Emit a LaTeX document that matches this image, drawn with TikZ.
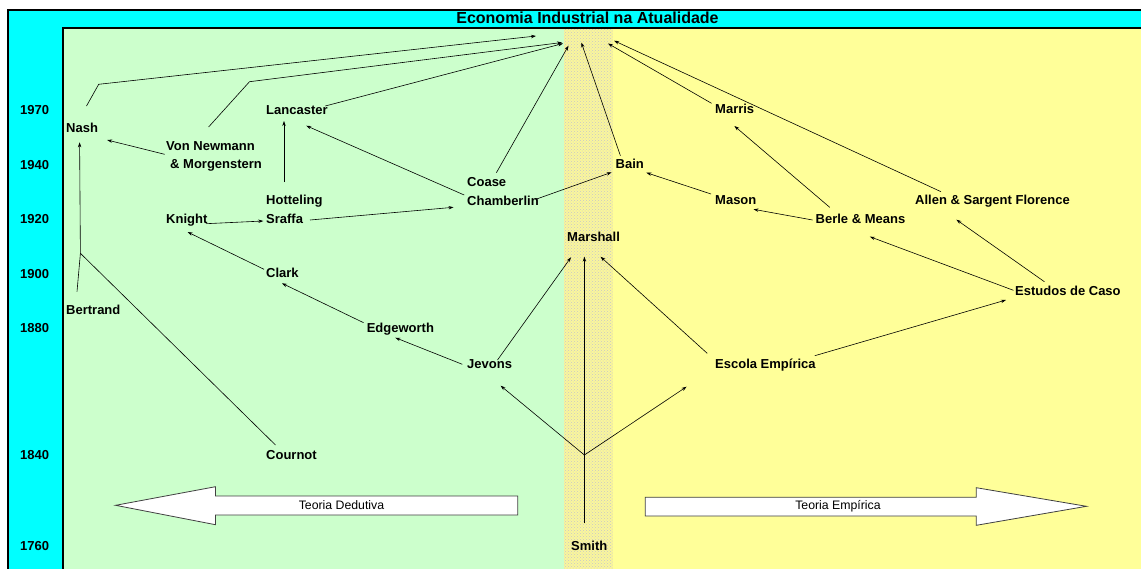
\documentclass[tikz,border=0pt]{standalone}
\usepackage{fontspec}
\setmainfont{Liberation Sans}
\usetikzlibrary{arrows.meta,patterns}
\definecolor{cyanbg}{RGB}{0,255,255}
\definecolor{greenbg}{RGB}{204,255,204}
\definecolor{yellowbg}{RGB}{255,255,153}
\definecolor{bandbg}{RGB}{250,246,156}
\begin{document}
\begin{tikzpicture}[x=1pt,y=-1pt,
 lbl/.style={anchor=base west,inner sep=0pt,font=\bfseries\fontsize{13}{15}\selectfont},
 con/.style={line width=0.6pt},
 arr/.style={con,-{Stealth[length=5pt,width=3.4pt]}},
 blockarrow/.style={fill=white,draw=black!75,line width=0.8pt},
 blocktxt/.style={inner sep=0pt,font=\fontsize{12.3}{14}\selectfont}]
\useasboundingbox (0,0) rectangle (1141,568);
\clip (0,0) rectangle (1141,568);
% frames and backgrounds
\draw[line width=2pt,fill=cyanbg] (8,10) rectangle (1160,590);
\fill[greenbg] (63,28) rectangle (564,590);
\fill[bandbg] (564,28) rectangle (613,590);
\fill[pattern=crosshatch dots,pattern color=black!22] (564,28) rectangle (613,590);
\fill[yellowbg] (613,28) rectangle (1160,590);
\draw[line width=2pt] (63,590) -- (63,28) -- (1160,28);
% title
\node[font=\bfseries\fontsize{16}{18}\selectfont,inner sep=0pt] (title) at (587.5,17.3) {Economia Industrial na Atualidade};
% years
\node[lbl] (y1970) at (20,114.5) {1970};
\node[lbl] (y1940) at (20,169) {1940};
\node[lbl] (y1920) at (20,223.5) {1920};
\node[lbl] (y1900) at (20,278) {1900};
\node[lbl] (y1880) at (20,332.8) {1880};
\node[lbl] (y1840) at (20,459.8) {1840};
\node[lbl] (y1760) at (20,550.8) {1760};
% names
\node[lbl] (nash) at (66,132.5) {Nash};
\node[lbl] (vonn) at (166,150.2) {Von Newmann};
\node[lbl] (morg) at (170,168.8) {\& Morgenstern};
\node[lbl] (lancaster) at (266,114.5) {Lancaster};
\node[lbl] (hotteling) at (266,204.8) {Hotteling};
\node[lbl] (sraffa) at (266,223.5) {Sraffa};
\node[lbl] (knight) at (166,223.5) {Knight};
\node[lbl] (coase) at (467,186.8) {Coase};
\node[lbl] (chamberlin) at (467,205.2) {Chamberlin};
\node[lbl] (marshall) at (567,241.5) {Marshall};
\node[lbl] (bain) at (615.5,168.8) {Bain};
\node[lbl] (marris) at (715,113.8) {Marris};
\node[lbl] (mason) at (715,204.8) {Mason};
\node[lbl] (berle) at (815.5,223.5) {Berle \& Means};
\node[lbl] (allen) at (915,204.8) {Allen \& Sargent Florence};
\node[lbl] (estudos) at (1015,295.5) {Estudos de Caso};
\node[lbl] (escola) at (715,368.8) {Escola Empírica};
\node[lbl] (smith) at (571,550.5) {Smith};
\node[lbl] (clark) at (266,277.8) {Clark};
\node[lbl] (bertrand) at (66,314.8) {Bertrand};
\node[lbl] (edgeworth) at (366.6,332.8) {Edgeworth};
\node[lbl] (jevons) at (467,368.8) {Jevons};
\node[lbl] (cournot) at (266,459.8) {Cournot};
% block arrows
\draw[blockarrow] (517.8,496) -- (215.5,496) -- (215.5,486.7) -- (115.6,505.3) -- (215.5,524.7) -- (215.5,515) -- (517.8,515) -- cycle;
\node[blocktxt] (dedutiva) at (341.5,505.5) {Teoria Dedutiva};
\draw[blockarrow] (645.2,497.3) -- (976.3,497.3) -- (976.3,487.7) -- (1086.5,506.3) -- (976.3,525.3) -- (976.3,516) -- (645.2,516) -- cycle;
\node[blocktxt] (empirica) at (838,506.5) {Teoria Empírica};
% coordinates (free ends and junctions)
\coordinate (tNash) at (536,36);
\coordinate (tVon) at (562,42.5);
\coordinate (tLan) at (563,43.5);
\coordinate (tCoase) at (568.5,45.7);
\coordinate (tBain) at (581.3,42.5);
\coordinate (tMarris) at (608,43.5);
\coordinate (tAllen) at (614,40.7);
\coordinate (kNash) at (98.7,84.3);
\coordinate (kVon) at (249.5,81.7);
\coordinate (jBC) at (80.4,253.3);
\coordinate (jSmith) at (584.4,455);
% connectors to the top
\draw[arr] (86.5,106) -- (kNash) -- (tNash);
\draw[arr] (208.6,127) -- (kVon) -- (tVon);
\draw[arr] (325.3,106) -- (tLan);
\draw[arr] (496.4,172.7) -- (tCoase);
\draw[arr] (620.4,155.7) -- (tBain);
\draw[arr] (711.5,103.3) -- (tMarris);
\draw[arr] (941,191.7) -- (tAllen);
% left side
\draw[arr] (284,182) -- (284,121);
\draw[arr] (164.6,154.3) -- (107.2,140);
\draw[arr] (464.2,195) -- (306.2,125.7);
\draw[arr] (206,223.7) -- (263.3,221);
\draw[arr] (310,220) -- (453.5,207.3);
\draw[arr] (535.8,199.3) -- (611.6,172.3);
\draw[con] (77,291.7) -- (jBC);
\draw[con] (275.5,445) -- (jBC);
\draw[arr] (jBC) -- (79.6,142.3);
\draw[arr] (264,269.3) -- (187.5,232);
\draw[arr] (363.6,322.7) -- (282,283.3);
\draw[arr] (462.3,364.3) -- (395.3,337.7);
\draw[arr] (497.5,360) -- (571,257.3);
% Smith
\draw[arr] (584.4,523.3) -- (584.4,256.7);
\draw[arr] (jSmith) -- (500.6,385.7);
\draw[arr] (jSmith) -- (686.6,386.7);
% right side
\draw[arr] (707.2,353.3) -- (600.5,256.7);
\draw[arr] (814.8,355.7) -- (1006,300);
\draw[arr] (1013.4,290.3) -- (869.9,236.7);
\draw[arr] (1044.4,281.7) -- (956.4,219.7);
\draw[arr] (829.7,207.3) -- (734.4,126);
\draw[arr] (711,194) -- (646.4,172.7);
\draw[arr] (812.5,220) -- (753.5,209.3);
\end{tikzpicture}
\end{document}
